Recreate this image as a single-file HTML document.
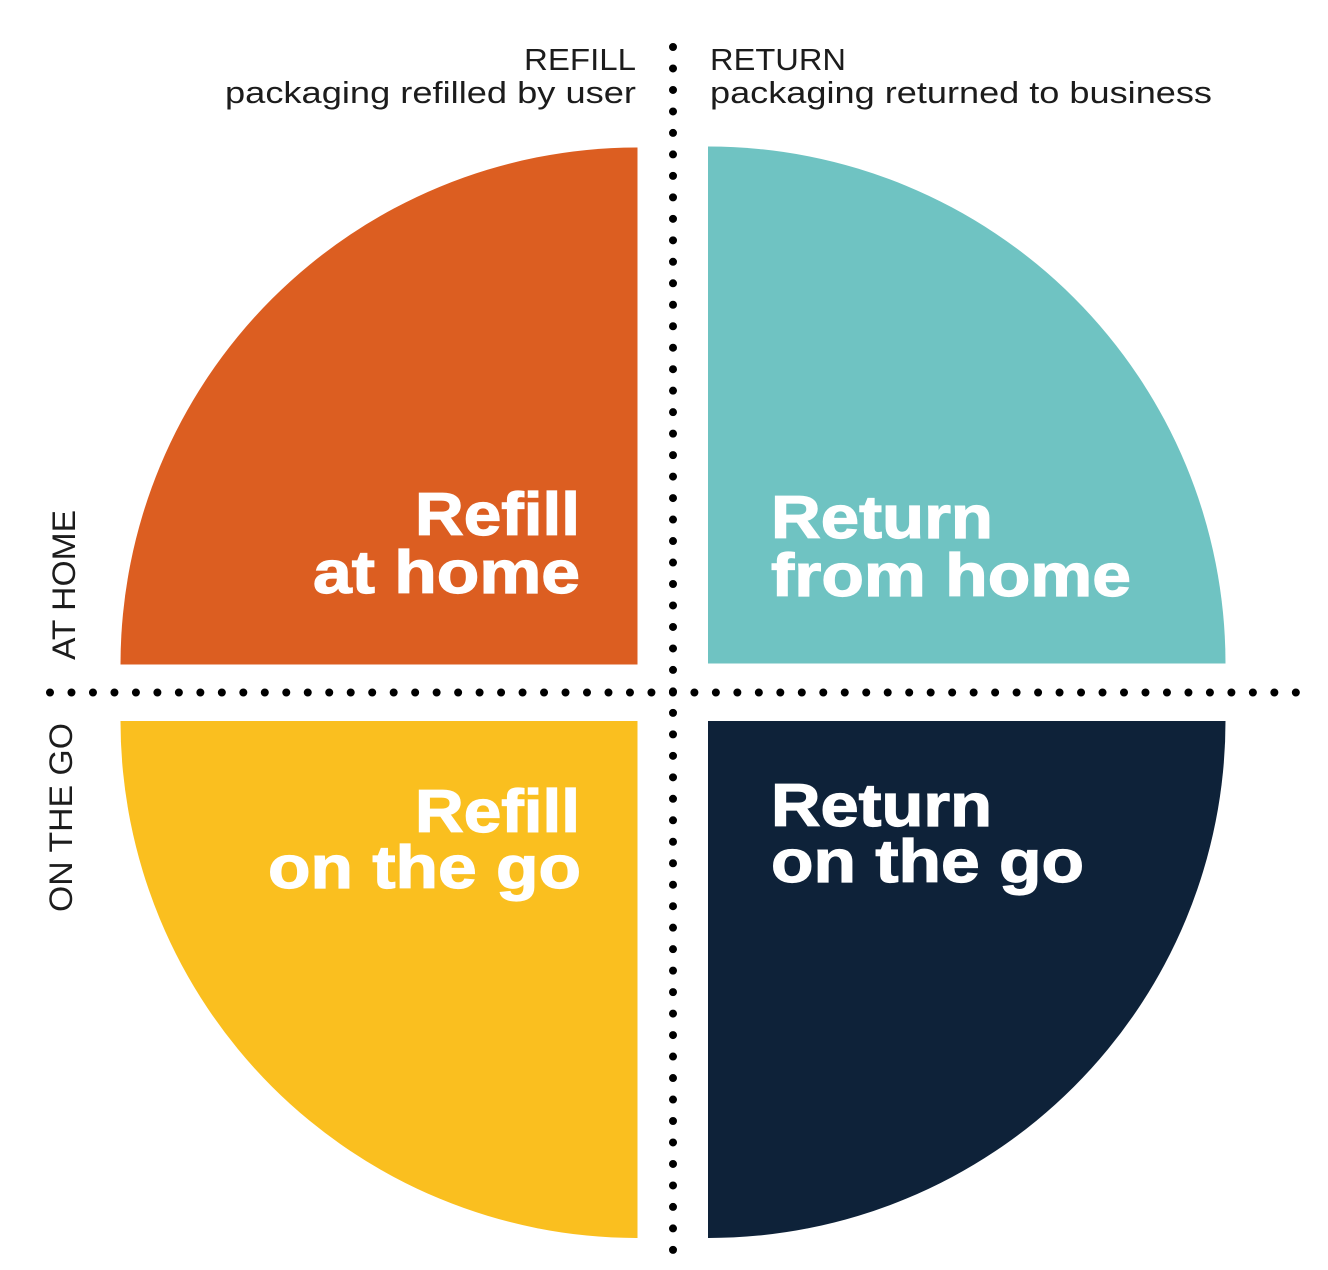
<!DOCTYPE html>
<html>
<head>
<meta charset="utf-8">
<style>
  html,body{margin:0;padding:0;background:#ffffff;}
  body{width:1328px;height:1270px;overflow:hidden;}
  svg{display:block;}
</style>
</head>
<body>
<svg width="1328" height="1270" viewBox="0 0 1328 1270" xmlns="http://www.w3.org/2000/svg">
  <rect width="1328" height="1270" fill="#ffffff"/>

  <!-- Quadrants -->
  <path d="M637.5,664.5 L120.5,664.5 A517,517 0 0 1 637.5,147.5 Z" fill="#DC5E21"/>
  <path d="M708,663.5 L708,146.5 A517,517 0 0 1 1225.5,663.5 Z" fill="#6FC3C2"/>
  <path d="M637.5,721 L637.5,1238 A517,517 0 0 1 120.5,721 Z" fill="#FABF1F"/>
  <path d="M708,721 L1225.5,721 A517,517 0 0 1 708,1238 Z" fill="#0E2239"/>

  <!-- Dotted axes -->
  <line x1="673" y1="47" x2="673" y2="1250" stroke="#000" stroke-width="8" stroke-linecap="round" stroke-dasharray="0 21.48"/>
  <line x1="50" y1="692.5" x2="1296" y2="692.5" stroke="#000" stroke-width="8" stroke-linecap="round" stroke-dasharray="0 21.48"/>

  <!-- Top headers -->
  <g font-family="'Liberation Sans', sans-serif" font-size="31" fill="#1c1c1c">
    <text x="524" y="70" textLength="112" lengthAdjust="spacingAndGlyphs">REFILL</text>
    <text x="225" y="103" textLength="411" lengthAdjust="spacingAndGlyphs">packaging refilled by user</text>
    <text x="710" y="70" textLength="136" lengthAdjust="spacingAndGlyphs">RETURN</text>
    <text x="710" y="103" textLength="502" lengthAdjust="spacingAndGlyphs">packaging returned to business</text>
  </g>

  <!-- Side labels -->
  <g font-family="'Liberation Sans', sans-serif" font-size="32" fill="#1c1c1c">
    <text transform="translate(75,660) rotate(-90)" x="0" y="0" textLength="150" lengthAdjust="spacingAndGlyphs">AT HOME</text>
    <text transform="translate(72,912) rotate(-90)" x="0" y="0" textLength="189" lengthAdjust="spacingAndGlyphs">ON THE GO</text>
  </g>

  <!-- Quadrant titles -->
  <g font-family="'Liberation Sans', sans-serif" font-size="60" font-weight="bold" fill="#ffffff" stroke="#ffffff" stroke-width="1.2">
    <text x="415" y="535" textLength="165" lengthAdjust="spacingAndGlyphs">Refill</text>
    <text x="313" y="593" textLength="267" lengthAdjust="spacingAndGlyphs">at home</text>

    <text x="771" y="538" textLength="222" lengthAdjust="spacingAndGlyphs">Return</text>
    <text x="771" y="596" textLength="360" lengthAdjust="spacingAndGlyphs">from home</text>

    <text x="415" y="832" textLength="165" lengthAdjust="spacingAndGlyphs">Refill</text>
    <text x="268" y="888" textLength="313" lengthAdjust="spacingAndGlyphs">on the go</text>

    <text x="771" y="826" textLength="221" lengthAdjust="spacingAndGlyphs">Return</text>
    <text x="771" y="882" textLength="313" lengthAdjust="spacingAndGlyphs">on the go</text>
  </g>
</svg>
</body>
</html>
